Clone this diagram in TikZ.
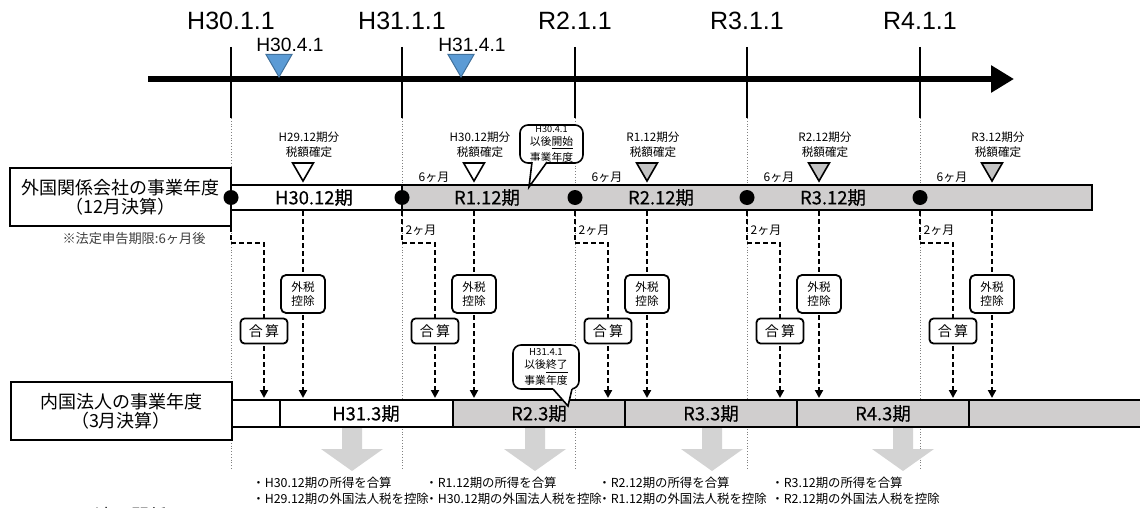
\documentclass[tikz,border=0pt]{standalone}
\usepackage{fontspec}
\setmainfont{Noto Sans CJK JP}
\newfontfamily\latinfont{Liberation Sans}
\newfontfamily\perfont[FakeBold=0.3]{Noto Sans CJK JP}
\usetikzlibrary{arrows.meta,calc,shapes.geometric}
\definecolor{pgray}{RGB}{208,206,206}
\definecolor{agray}{RGB}{211,211,211}
\definecolor{mblue}{RGB}{91,155,213}
\definecolor{mbluedk}{RGB}{65,113,156}
\definecolor{tgray}{RGB}{196,196,196}
\definecolor{notegray}{RGB}{64,64,64}
\tikzset{
  lhead/.style ={draw,line width=1pt,minimum width=110.5pt,minimum height=29pt,align=center,
                 inner sep=0pt,font=\fontsize{9}{9.5}\selectfont},
  per/.style   ={inner sep=0pt,font=\perfont\fontsize{9.2}{10}\selectfont},
  date/.style  ={inner sep=0pt,font=\latinfont\fontsize{12.5}{14}\selectfont},
  qdate/.style ={inner sep=0pt,font=\latinfont\fontsize{9.6}{11}\selectfont},
  qmark/.style ={regular polygon,regular polygon sides=3,shape border rotate=180,fill=mblue,
                 draw=mbluedk,line width=0.5pt,minimum size=15pt,inner sep=0pt},
  taxmk/.style ={regular polygon,regular polygon sides=3,shape border rotate=180,draw,
                 line width=0.8pt,minimum size=12pt,inner sep=0pt},
  dot/.style   ={circle,fill=black,minimum size=7.5pt,inner sep=0pt},
  lbl/.style   ={align=center,inner sep=0pt,font=\fontsize{5.8}{7.5}\selectfont},
  mon/.style   ={inner sep=0pt,font=\fontsize{6}{7}\selectfont},
  sumbox/.style={draw,fill=white,line width=0.9pt,rounded corners=2pt,minimum width=23.5pt,
                 minimum height=12.5pt,inner sep=0pt,font=\fontsize{7}{8}\selectfont},
  ftcbox/.style={draw,fill=white,line width=0.9pt,rounded corners=2.5pt,minimum width=22pt,
                 minimum height=19pt,inner sep=0pt,align=center,font=\fontsize{5.8}{7}\selectfont},
  callbox/.style={draw,fill=white,line width=0.8pt,rounded corners=4pt,inner sep=0pt,
                 align=center,font=\fontsize{5.4}{6.2}\selectfont},
  dashar/.style={dash pattern=on 2.5pt off 1.5pt,line width=1pt,-{Triangle[length=4pt,width=4pt]}},
  guide/.style ={gray,densely dotted,line width=0.4pt},
  note/.style  ={anchor=north west,align=left,inner sep=0pt,font=\fontsize{6.2}{8}\selectfont},
}
\begin{document}
\begin{tikzpicture}[x=0.5pt,y=-0.5pt]
\useasboundingbox[fill=white] (0,0) rectangle (1140,508);

% guides and time axis
\foreach \x in {231,402,575,747,920}
  \draw[guide] (\x,118) -- (\x,470);
\foreach \x/\d [count=\i] in {231/H30.1.1,402/H31.1.1,575/R2.1.1,747/R3.1.1,920/R4.1.1}{
  \node[date] (d\i) at (\x,21) {\d};
  \draw[line width=1.2pt] (\x,47) -- (\x,118);
}
\coordinate (t0) at (148,79);
\coordinate (t1) at (1014,79);
\draw[line width=3.2pt,-{Triangle[length=11.5pt,width=13pt]}] (t0) -- (t1);
\node[qmark] (q1) at (279,62) {};  \node[qdate] (ql1) at (290,45) {H30.4.1};
\node[qmark] (q2) at (461,62) {};  \node[qdate] (ql2) at (472,45) {H31.4.1};

% foreign company periods
\draw[line width=1pt,fill=white] (231,185) rectangle (402,210);
\draw[line width=1pt,fill=pgray] (402,185) rectangle (1092,210);
\foreach \x/\t [count=\i] in {314/H30.12期,487/R1.12期,661/R2.12期,833/R3.12期}
  \node[per] (fp\i) at (\x,197.5) {\t};

% domestic company periods
\foreach \a/\b/\c in {232/280/white,280/453/white,453/625/pgray,625/797/pgray,797/969/pgray,969/1142/pgray}
  \draw[line width=1pt,fill=\c] (\a,400) rectangle (\b,427);
\foreach \x/\t [count=\i] in {366/H31.3期,539/R2.3期,711/R3.3期,883/R4.3期}
  \node[per] (dp\i) at (\x,413.5) {\t};

% row heads
\node[lhead] (fc) at (120.5,197) {外国関係会社の事業年度\\（12月決算）};
\node[lhead] (dc) at (121,411) {内国法人の事業年度\\（3月決算）};
\node[inner sep=0pt,text=notegray,font=\fontsize{6.6}{8}\selectfont] (fn) at (134,239) {※法定申告期限:6ヶ月後};

% flows per year
\foreach \x/\yr/\t [count=\i] in {231/H29.12/white,402/H30.12/white,575/R1.12/tgray,747/R2.12/tgray,920/R3.12/tgray}{
  \pgfmathsetmacro\xs{\x+33}
  \pgfmathsetmacro\xt{\x+72}
  \coordinate (ua\i) at (\x,211);
  \coordinate (ub\i) at (\xs,398);
  \coordinate (va\i) at (\xt,211);
  \coordinate (vb\i) at (\xt,398);
  \draw[dashar] (ua\i) -- ++(0,32) -| (ub\i);
  \node[sumbox] (sum\i) at (\xs,331) {合\,算};
  \draw[dashar] (va\i) -- (vb\i);
  \node[ftcbox] (ftc\i) at (\xt,294) {外税\\控除};
  \node[taxmk,fill=\t] (tx\i) at (\xt,169) {};
  \node[lbl] (tl\i) at (\xt+6,144.5) {\yr 期分\\税額確定};
  \ifnum\i>1
    \node[mon] (m\i) at (\x+32,177) {6ヶ月};
    \node[mon] (n\i) at (\x+19,230) {2ヶ月};
  \fi
}
\foreach \x [count=\i] in {231,402,575,747,920}
  \node[dot] (p\i) at (\x,197.5) {};

% callouts
\node[callbox,minimum width=31.5pt,minimum height=19pt] (cb1) at (551.5,144)
  {{\fontsize{4.6}{5}\selectfont H30.4.1}\\以後\underline{開始}\\事業年度};
\fill[white] (532,160.5) -- (547,160.5) -- (547,162) -- (529,187) -- (532,162) -- cycle;
\draw[line width=0.8pt] (532,162) -- (529,187) -- (547,162);
\node[callbox,minimum width=33pt,minimum height=22pt] (cb2) at (546,367)
  {{\fontsize{4.8}{5}\selectfont H31.4.1}\\以後\underline{終了}\\事業年度};
\fill[white] (553,387.5) -- (572,387.5) -- (572,389) -- (568,406) -- (553,389) -- cycle;
\draw[line width=0.8pt] (553,389) -- (568,406) -- (572,389);

% results
\foreach \x in {352,535,712,903}
  \fill[agray] (\x-10,428) -- (\x+10,428) -- (\x+10,449) -- (\x+31,449) -- (\x,471)
    -- (\x-31,449) -- (\x-10,449) -- cycle;
\foreach \x/\na/\nb [count=\i] in {252/H30.12/H29.12,425/R1.12/H30.12,598/R2.12/R1.12,771/R3.12/R2.12}
  \node[note] (r\i) at (\x,477) {・\na 期の所得を合算\\・\nb 期の外国法人税を控除};
\node[inner sep=0pt,font=\fontsize{9}{10}\selectfont] (ap) at (131,516) {※適用関係※};
\end{tikzpicture}
\end{document}
